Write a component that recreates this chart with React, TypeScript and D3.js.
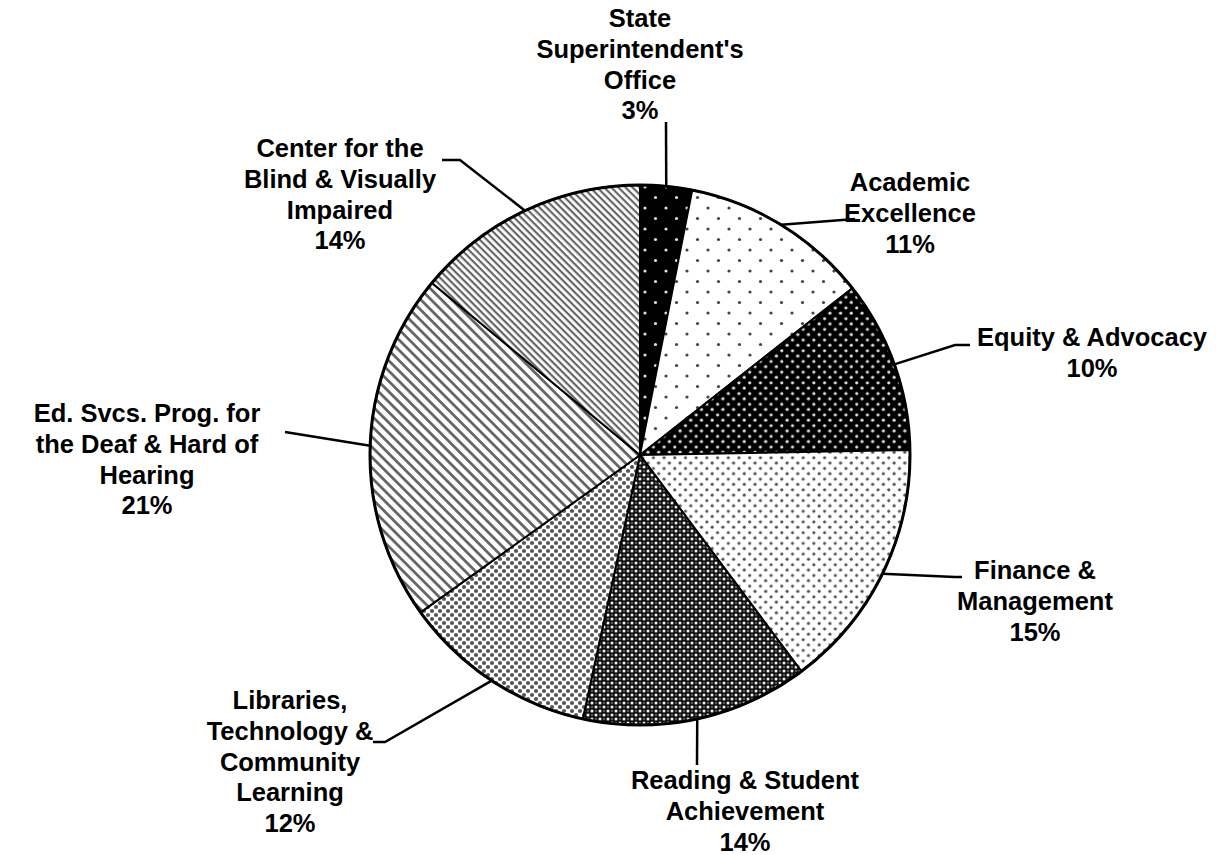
import React from 'react';
import { arc, pie, PieArcDatum } from 'd3';

const divisions = [
  'State Superintendent\'s Office',
  'Academic Excellence',
  'Equity & Advocacy',
  'Finance & Management',
  'Reading & Student Achievement',
  'Libraries, Technology & Community Learning',
  'Ed. Svcs. Prog. for the Deaf & Hard of Hearing',
  'Center for the Blind & Visually Impaired',
];
const shares = [3.1, 11.3, 10.3, 15.1, 13.6, 11.7, 20.9, 14.0];
const labelLines = [
  ['State', 'Superintendent\'s', 'Office'],
  ['Academic', 'Excellence'],
  ['Equity & Advocacy'],
  ['Finance &', 'Management'],
  ['Reading & Student', 'Achievement'],
  ['Libraries,', 'Technology &', 'Community', 'Learning'],
  ['Ed. Svcs. Prog. for', 'the Deaf & Hard of', 'Hearing'],
  ['Center for the', 'Blind & Visually', 'Impaired'],
];
const pctLabels = ['3%', '11%', '10%', '15%', '14%', '12%', '21%', '14%'];

// label layout: text block centre x, first line y, leader line points (label side)
const labelLayout = [
  { x: 640, y: 18, leader: [[666, 122]] },
  { x: 910, y: 182, leader: [[855, 219]] },
  { x: 1092, y: 337, leader: [[955, 345], [970, 345]] },
  { x: 1035, y: 570, leader: [[955, 577], [962, 577]] },
  { x: 745, y: 780, leader: [[697, 765]] },
  { x: 290, y: 700, leader: [[385, 742], [373, 742]] },
  { x: 147, y: 413, leader: [[285, 432]] },
  { x: 340, y: 148, leader: [[460, 160], [442, 160]] },
];

const cx = 640;
const cy = 455;
const radius = 270;
const lineH = 30.8;

function Patterns() {
  return (
    <defs>
      <pattern id="p0" width={21} height={21} patternUnits="userSpaceOnUse">
        <rect width={21} height={21} fill="#000" />
        <circle cx={5} cy={5} r={1.6} fill="#ddd" />
        <circle cx={15.5} cy={15.5} r={1.6} fill="#ddd" />
      </pattern>
      <pattern id="p1" width={21} height={21} patternUnits="userSpaceOnUse">
        <rect width={21} height={21} fill="#fff" />
        <circle cx={5} cy={5} r={1.6} fill="#444" />
        <circle cx={15.5} cy={15.5} r={1.6} fill="#444" />
      </pattern>
      <pattern id="p2" width={10.7} height={10.7} patternUnits="userSpaceOnUse">
        <rect width={10.7} height={10.7} fill="#000" />
        <circle cx={2.7} cy={2.7} r={1.6} fill="#ddd" />
        <circle cx={8} cy={8} r={1.6} fill="#ddd" />
      </pattern>
      <pattern id="p3" width={10.7} height={10.7} patternUnits="userSpaceOnUse">
        <rect width={10.7} height={10.7} fill="#fff" />
        <circle cx={2.7} cy={2.7} r={1.6} fill="#555" />
        <circle cx={8} cy={8} r={1.6} fill="#555" />
      </pattern>
      <pattern id="p4" width={8} height={8} patternUnits="userSpaceOnUse">
        <rect width={8} height={8} fill="#111" />
        <circle cx={0} cy={0} r={1.5} fill="#eee" />
        <circle cx={8} cy={0} r={1.5} fill="#eee" />
        <circle cx={0} cy={8} r={1.5} fill="#eee" />
        <circle cx={8} cy={8} r={1.5} fill="#eee" />
        <circle cx={4} cy={4} r={1.5} fill="#eee" />
        <circle cx={4} cy={0} r={0.9} fill="#777" />
        <circle cx={0} cy={4} r={0.9} fill="#777" />
        <circle cx={8} cy={4} r={0.9} fill="#777" />
        <circle cx={4} cy={8} r={0.9} fill="#777" />
      </pattern>
      <pattern id="p5" width={8} height={8} patternUnits="userSpaceOnUse">
        <rect width={8} height={8} fill="#fff" />
        <circle cx={4} cy={0} r={2.1} fill="#555" />
        <circle cx={0} cy={4} r={2.1} fill="#555" />
        <circle cx={8} cy={4} r={2.1} fill="#555" />
        <circle cx={4} cy={8} r={2.1} fill="#555" />
      </pattern>
      <pattern id="p6" width={7.3} height={7.3} patternUnits="userSpaceOnUse" patternTransform="rotate(45)">
        <rect width={7.3} height={7.3} fill="#fff" />
        <rect width={7.3} height={2.8} fill="#666" />
      </pattern>
      <pattern id="p7" width={5} height={5} patternUnits="userSpaceOnUse" patternTransform="rotate(45)">
        <rect width={5} height={5} fill="#fff" />
        <rect width={5} height={2.2} fill="#666" />
      </pattern>
    </defs>
  );
}

export default function App() {
  const slices = pie<number>()
    .sort(null)
    .value((d) => d)(shares);
  const sliceArc = arc<PieArcDatum<number>>().innerRadius(0).outerRadius(radius);

  return (
    <svg
      width={1220}
      height={855}
      style={{ position: 'absolute', left: 0, top: 0, background: '#fff' }}
      fontFamily="'Liberation Sans', Arial, sans-serif"
    >
      <Patterns />
      <g transform={`translate(${cx}, ${cy})`}>
        {slices.map((s, i) => (
          <path
            key={`slice-${divisions[i]}`}
            d={sliceArc(s) || ''}
            fill={`url(#p${i})`}
            stroke="#000"
            strokeWidth={2}
            strokeLinejoin="round"
          />
        ))}
        <circle r={radius} fill="none" stroke="#000" strokeWidth={3} />
      </g>
      {slices.map((s, i) => {
        const mid = (s.startAngle + s.endAngle) / 2;
        const ex = cx + radius * Math.sin(mid);
        const ey = cy - radius * Math.cos(mid);
        const pts = [[ex, ey], ...labelLayout[i].leader];
        return (
          <polyline
            key={`leader-${divisions[i]}`}
            points={pts.map((p) => p.join(',')).join(' ')}
            fill="none"
            stroke="#000"
            strokeWidth={2.5}
          />
        );
      })}
      {labelLayout.map((l, i) => {
        const lines = [...labelLines[i], pctLabels[i]];
        return (
          <text
            key={`label-${divisions[i]}`}
            textAnchor="middle"
            fontSize={25.5}
            fontWeight="bold"
            fill="#000"
          >
            {lines.map((t, j) => (
              <tspan key={j} x={l.x} y={l.y + j * lineH} dominantBaseline="central">
                {t}
              </tspan>
            ))}
          </text>
        );
      })}
    </svg>
  );
}
